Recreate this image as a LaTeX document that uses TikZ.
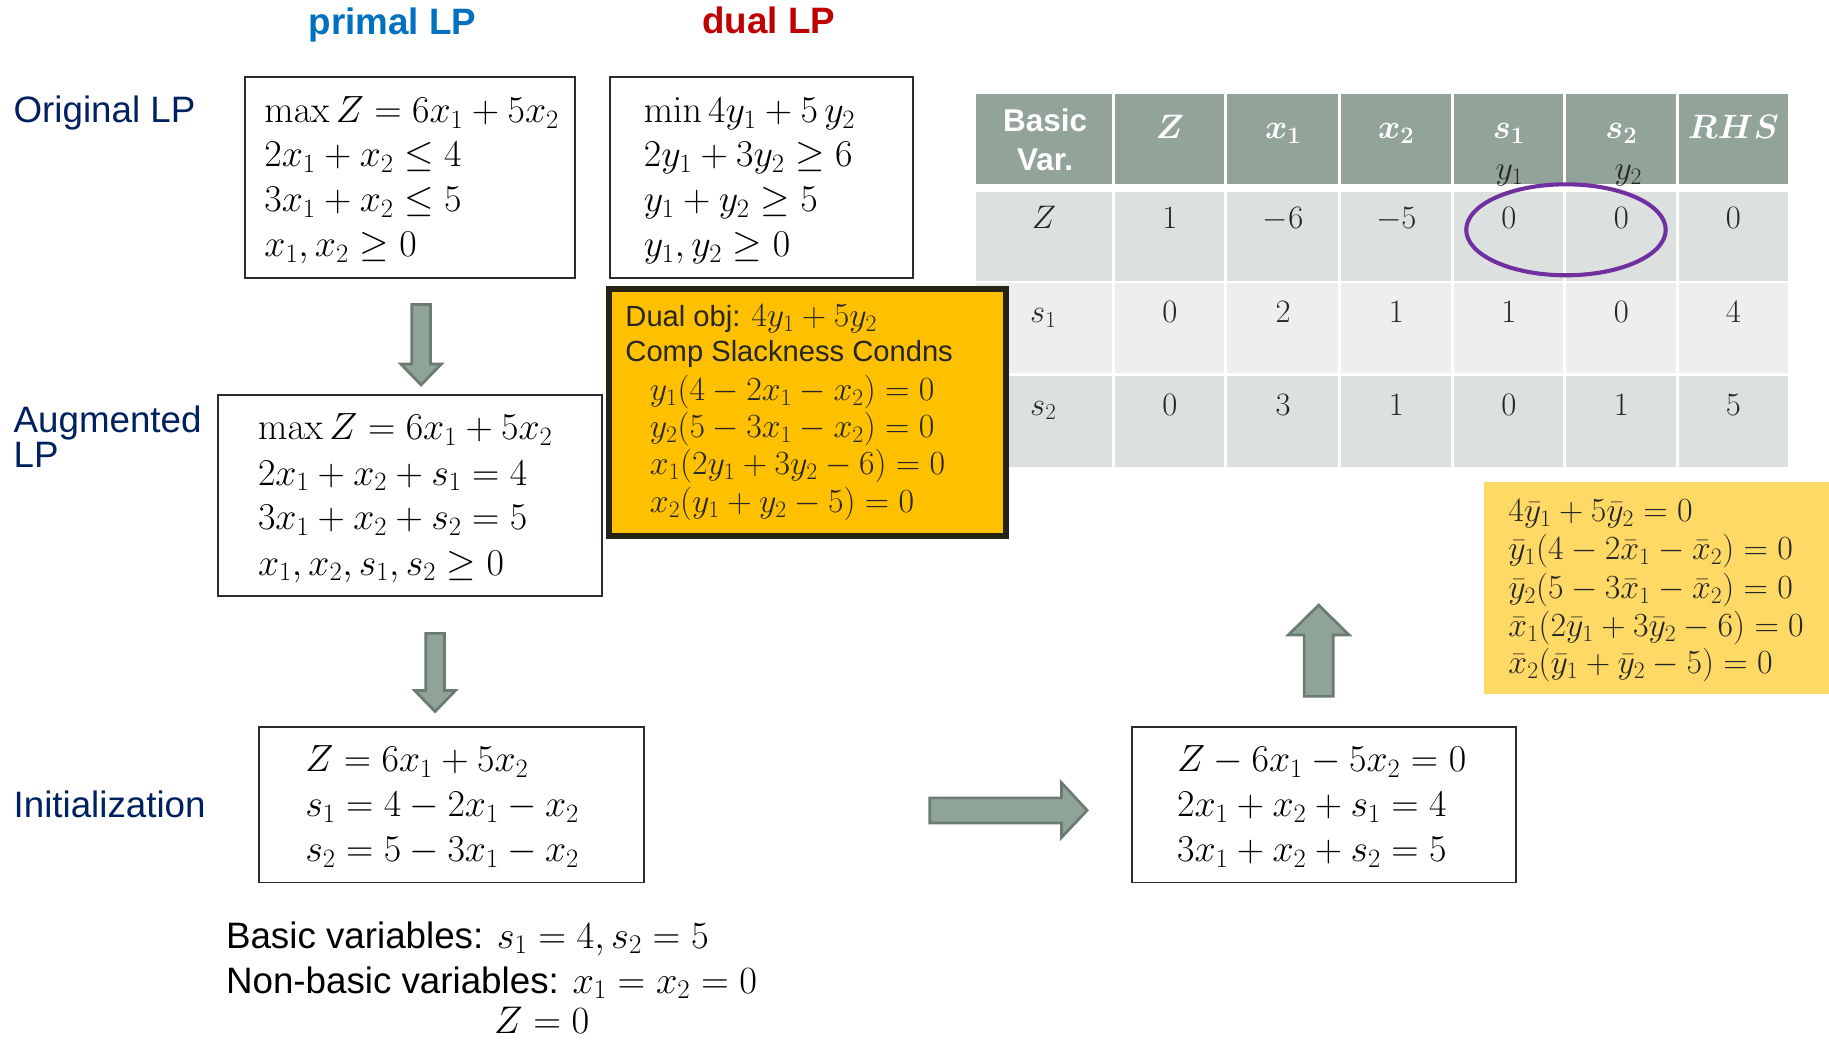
\RequirePackage{fix-cm}
\documentclass[tikz,border=0pt]{standalone}
\usepackage{amsmath}
\usepackage{bm}
\usepackage[no-math]{fontspec}
\newfontfamily\lsans{Liberation Sans}
\definecolor{primalc}{HTML}{0070C0}
\definecolor{dualc}{HTML}{C00000}
\definecolor{navy}{HTML}{002060}
\definecolor{arrf}{HTML}{8FA397}
\definecolor{arrd}{HTML}{6B7B71}
\definecolor{hdr}{HTML}{92A39A}
\definecolor{rowd}{HTML}{DCE1DF}
\definecolor{rowl}{HTML}{EDEFEE}
\definecolor{orng}{HTML}{FFC000}
\definecolor{obord}{HTML}{262415}
\definecolor{yel}{HTML}{FFD966}
\definecolor{purp}{HTML}{7030A0}
\definecolor{boxc}{HTML}{2B2B2B}
\definecolor{tcol}{HTML}{262626}
\begin{document}
\begin{tikzpicture}[x=1pt,y=-1pt,
  lbl/.style={font=\lsans\fontsize{31.5}{32}\selectfont, text=navy, inner sep=0, anchor=base west},
  ttl/.style={font=\lsans\bfseries\fontsize{31.5}{32}\selectfont, inner sep=0, anchor=base},
  eq/.style={font=\fontsize{32.5}{38}\selectfont, inner sep=0, anchor=base west, text=black},
  eqo/.style={font=\fontsize{29}{30}\selectfont, inner sep=0, anchor=base west, text=tcol, text height=21pt, text depth=6pt},
  eqy/.style={font=\fontsize{29}{30}\selectfont, inner sep=0, anchor=base west, text=tcol, text height=21pt, text depth=6pt},
  txt/.style={font=\lsans\fontsize{31.5}{32}\selectfont, inner sep=0, anchor=base west, text=black},
  otxt/.style={font=\lsans\fontsize{25}{28}\selectfont, inner sep=0, anchor=base west, text=tcol},
  eqbox/.style={draw=boxc, line width=1.6pt, inner sep=0, anchor=north west},
  blockarrow/.style={fill=arrf, draw=arrd, line width=2.3pt, line join=miter},
  hd/.style={font=\lsans\bfseries\fontsize{27}{30}\selectfont, text=white, inner sep=0, anchor=base},
  hm/.style={font=\fontsize{29}{30}\selectfont, text=white, inner sep=0, anchor=base},
  cv/.style={font=\fontsize{28}{30}\selectfont, text=tcol, inner sep=0, anchor=base},
  cl/.style={font=\fontsize{28}{30}\selectfont, text=tcol, inner sep=0, anchor=base west},
  gap/.style={draw=white, line width=2.6pt}
]
\useasboundingbox (0,0) rectangle (1568,892);

% titles and labels
\node[ttl, text=primalc] (tprimal) at (336.5,30) {primal LP};
\node[ttl, text=dualc] (tdual) at (659,28.6) {dual LP};
\node[lbl] (lorig) at (11.5,105) {Original LP};
\node[lbl] (laug1) at (11.5,371) {Augmented};
\node[lbl] (laug2) at (11.5,401) {LP};
\node[lbl] (linit) at (11.5,701) {Initialization};

% box 1: primal
\node[eqbox, minimum width=283pt, minimum height=172pt] (b1) at (209,65.2) {};
\node[eq] (b1l1) at (226.5,105) {$\max Z = 6x_1 + 5x_2$};
\node[eq] (b1l2) at (226.5,143) {$2x_1 + x_2 \le 4$};
\node[eq] (b1l3) at (226.5,181.5) {$3x_1 + x_2 \le 5$};
\node[eq] (b1l4) at (226.5,220) {$x_1, x_2 \ge 0$};

% box 2: dual
\node[eqbox, minimum width=260pt, minimum height=172pt] (b2) at (522,65.2) {};
\node[eq] (b2l1) at (551.8,105) {$\min 4y_1 + 5\,y_2$};
\node[eq] (b2l2) at (551.8,143) {$2y_1 + 3y_2 \ge 6$};
\node[eq] (b2l3) at (551.8,181.5) {$y_1 + y_2 \ge 5$};
\node[eq] (b2l4) at (551.8,220) {$y_1, y_2 \ge 0$};

% box 3: augmented
\node[eqbox, minimum width=329pt, minimum height=172pt] (b3) at (186,338) {};
\node[eq] (b3l1) at (221,377) {$\max Z = 6x_1 + 5x_2$};
\node[eq] (b3l2) at (221,415.8) {$2x_1 + x_2 + s_1 = 4$};
\node[eq] (b3l3) at (221,454) {$3x_1 + x_2 + s_2 = 5$};
\node[eq] (b3l4) at (221,493) {$x_1, x_2, s_1, s_2 \ge 0$};

% box 4: initialization
\node[eqbox, minimum width=329.4pt, minimum height=133.4pt] (b4) at (221.6,622.4) {};
\node[eq] (b4l1) at (261.5,661.5) {$Z = 6x_1 + 5x_2$};
\node[eq] (b4l2) at (261.5,700) {$s_1 = 4 - 2x_1 - x_2$};
\node[eq] (b4l3) at (261.5,738.7) {$s_2 = 5 - 3x_1 - x_2$};

% box 5
\node[eqbox, minimum width=328.5pt, minimum height=133.4pt] (b5) at (970,622.4) {};
\node[eq] (b5l1) at (1009,661.5) {$Z - 6x_1 - 5x_2 = 0$};
\node[eq] (b5l2) at (1009,700) {$2x_1 + x_2 + s_1 = 4$};
\node[eq] (b5l3) at (1009,738.7) {$3x_1 + x_2 + s_2 = 5$};

% bottom text
\node[txt] (bv1) at (193.6,812.8) {Basic variables: {\fontsize{33}{34}\selectfont$s_1 = 4, s_2 = 5$}};
\node[txt] (bv2) at (193.6,851.4) {Non-basic variables: {\fontsize{33}{34}\selectfont$x_1 = x_2 = 0$}};
\node[txt, anchor=base, font=\fontsize{33}{34}\selectfont] (bv3) at (464.4,886) {$Z = 0$};

% block arrows
\draw[blockarrow] (353,261) -- (369,261) -- (369,312) -- (378.5,312) -- (361,330) -- (343.5,312) -- (353,312) -- cycle;
\draw[blockarrow] (365,543) -- (381,543) -- (381,592) -- (390.5,592) -- (373,610) -- (355.5,592) -- (365,592) -- cycle;
\draw[blockarrow] (797,684) -- (910,684) -- (910,671) -- (932,694.7) -- (910,718) -- (910,705.5) -- (797,705.5) -- cycle;
\draw[blockarrow] (1118,597) -- (1118,544.4) -- (1104.4,544.4) -- (1130.5,518.7) -- (1156.6,544.4) -- (1143,544.4) -- (1143,597) -- cycle;

% table
\fill[hdr] (837,81) rectangle (1533,158);
\fill[rowd] (837,165) rectangle (1533,240.5);
\fill[rowl] (837,243) rectangle (1533,320);
\fill[rowd] (837,322.5) rectangle (1533,400);
\foreach \xx in {955,1051,1148,1245,1341.5,1438}
  \draw[gap] (\xx,80) -- (\xx,401);

\node[hd] (hbv1) at (896,113) {Basic};
\node[hd] (hbv2) at (896,146) {Var.};
\node[hm] (hz) at (1003,118.5) {$\bm{Z}$};
\node[hm] (hx1) at (1100,118.5) {$\bm{x_1}$};
\node[hm] (hx2) at (1197,118.5) {$\bm{x_2}$};
\node[hm] (hs1) at (1293.5,118.5) {$\bm{s_1}$};
\node[hm] (hs2) at (1390,118.5) {$\bm{s_2}$};
\node[hm] (hrhs) at (1486,119) {$\bm{RHS}$};
\node[hm, text=tcol] (hy1) at (1294,154) {$y_1$};
\node[hm, text=tcol] (hy2) at (1396,154) {$y_2$};

\node[cv] (rz) at (895,195.5) {$Z$};
\node[cv] (c11) at (1003,195.5) {$1$};
\node[cv] (c12) at (1100,195.5) {$-6$};
\node[cv] (c13) at (1197,195.5) {$-5$};
\node[cv] (c14) at (1293.5,195.5) {$0$};
\node[cv] (c15) at (1390,195.5) {$0$};
\node[cv] (c16) at (1486,195.5) {$0$};

\node[cl] (rs1) at (883,276.6) {$s_1$};
\node[cv] (c21) at (1003,276.6) {$0$};
\node[cv] (c22) at (1100,276.6) {$2$};
\node[cv] (c23) at (1197,276.6) {$1$};
\node[cv] (c24) at (1293.5,276.6) {$1$};
\node[cv] (c25) at (1390,276.6) {$0$};
\node[cv] (c26) at (1486,276.6) {$4$};

\node[cl] (rs2) at (883,355.8) {$s_2$};
\node[cv] (c31) at (1003,355.8) {$0$};
\node[cv] (c32) at (1100,355.8) {$3$};
\node[cv] (c33) at (1197,355.8) {$1$};
\node[cv] (c34) at (1293.5,355.8) {$0$};
\node[cv] (c35) at (1390,355.8) {$1$};
\node[cv] (c36) at (1486,355.8) {$5$};

\draw[purp, line width=3.5pt] (1342.5,197) ellipse [x radius=85.5pt, y radius=39pt];

% orange box
\node[draw=obord, fill=orng, line width=5pt, inner sep=0, anchor=north west,
      minimum width=340.5pt, minimum height=212pt] (ob) at (519.5,245) {};
\node[otxt] (o1) at (536,280) {Dual obj: {\fontsize{29}{30}\selectfont$4y_1 + 5y_2$}};
\node[otxt] (o2) at (536,310) {Comp Slackness Condns};
\node[eqo] (o3) at (557,343) {$y_1(4 - 2x_1 - x_2) = 0$};
\node[eqo] (o4) at (557,375) {$y_2(5 - 3x_1 - x_2) = 0$};
\node[eqo] (o5) at (557,407) {$x_1(2y_1 + 3y_2 - 6) = 0$};
\node[eqo] (o6) at (557,439) {$x_2(y_1 + y_2 - 5) = 0$};

% yellow box
\node[fill=yel, inner sep=0, anchor=north west, minimum width=296pt, minimum height=182pt] (yb) at (1272,413) {};
\node[eqy] (y1) at (1293,447) {$4\bar{y}_1 + 5\bar{y}_2 = 0$};
\node[eqy] (y2) at (1293,480) {$\bar{y}_1(4 - 2\bar{x}_1 - \bar{x}_2) = 0$};
\node[eqy] (y3) at (1293,512.8) {$\bar{y}_2(5 - 3\bar{x}_1 - \bar{x}_2) = 0$};
\node[eqy] (y4) at (1293,545.8) {$\bar{x}_1(2\bar{y}_1 + 3\bar{y}_2 - 6) = 0$};
\node[eqy] (y5) at (1293,577) {$\bar{x}_2(\bar{y}_1 + \bar{y}_2 - 5) = 0$};
\end{tikzpicture}
\end{document}
